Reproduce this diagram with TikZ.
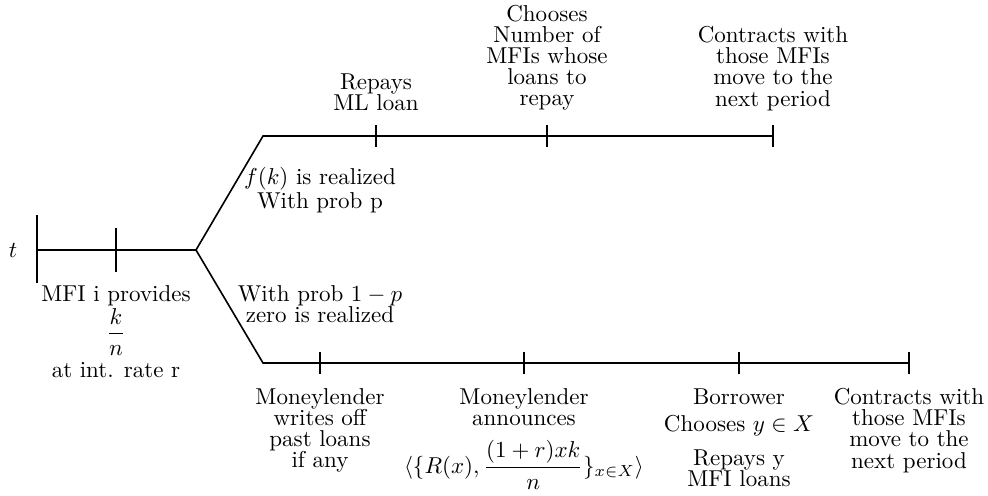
\documentclass[tikz,border=0pt]{standalone}
\begin{document}
\begin{tikzpicture}[x=0.435pt,y=-0.435pt,
  tl/.style={line width=0.7pt},
  lbl/.style={align=center,inner sep=0pt,font=\fontsize{10}{9.2}\selectfont}]
\useasboundingbox (0,0) rectangle (988,495);
% timeline points
\coordinate (s) at (37,250);
\coordinate (s1) at (116,250);
\coordinate (b) at (196,250);
\coordinate (u0) at (263,136);
\coordinate (u1) at (376,136);
\coordinate (u2) at (547,136);
\coordinate (u3) at (773,136);
\coordinate (l0) at (263,363);
\coordinate (l1) at (320,363);
\coordinate (l2) at (524,363);
\coordinate (l3) at (739,363);
\coordinate (l4) at (909,363);
% lines
\draw[tl] (s) -- (b) -- (u0) -- (u3);
\draw[tl] (b) -- (l0) -- (l4);
% ticks
\draw[tl] (s) ++(0,-35) -- ++(0,68);
\draw[tl] (s1) ++(0,-22) -- ++(0,44);
\foreach \p in {u1,u2,u3,l1,l2,l3,l4}
  \draw[tl] (\p) ++(0,-11) -- ++(0,22);
% labels
\node[lbl] (tlab) at (13,250) {$t$};
\node[lbl,anchor=north] (mfi) at (116,285) {MFI i provides\\$\displaystyle\frac{k}{n}$\\[2pt]at int. rate r};
\node[lbl] (fk) at (320,190) {$f(k)$ is realized\\With prob p};
\node[lbl] (zr) at (320,304) {With prob $1-p$\\zero is realized};
\node[lbl,anchor=south] (rml) at (376,111) {Repays\\ML loan};
\node[lbl,anchor=south] (ch) at (547,111) {Chooses\\Number of\\MFIs whose\\loans to\\repay};
\node[lbl,anchor=south] (cu) at (773,111) {Contracts with\\those MFIs\\move to the\\next period};
\node[lbl,anchor=north] (mw) at (320,388) {Moneylender\\writes off\\past loans\\if any};
\node[lbl,anchor=north] (ma) at (524,388) {Moneylender\\announces};
\node[lbl] (fm) at (524,465) {$\langle\{R(x),\displaystyle\frac{(1+r)xk}{n}\}_{x\in X}\rangle$};
\node[lbl,anchor=north] (bc) at (739,388) {Borrower\\[2.5pt]Chooses $y\in X$};
\node[lbl,anchor=north] (ry) at (739,449) {Repays y\\MFI loans};
\node[lbl,anchor=north] (cl) at (909,388) {Contracts with\\those MFIs\\move to the\\next period};
\end{tikzpicture}
\end{document}
